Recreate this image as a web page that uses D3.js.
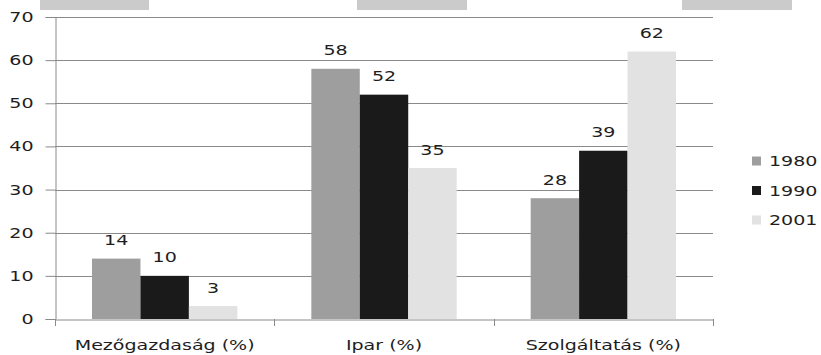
<!DOCTYPE html>
<html><head><meta charset="utf-8">
<script src="https://cdn.jsdelivr.net/npm/d3@7"></script>
<style>body{margin:0;background:#fff;} svg{display:block;font-family:"DejaVu Sans",Verdana,sans-serif;}</style>
</head><body><svg id="c" width="821" height="355"></svg>
<script>
const categories = ["Mezőgazdaság (%)", "Ipar (%)", "Szolgáltatás (%)"];
const seriesNames = ["1980", "1990", "2001"];
const values1980 = [14, 58, 28];
const values1990 = [10, 52, 39];
const values2001 = [3, 35, 62];
const yTicks = [0, 10, 20, 30, 40, 50, 60, 70];
const colors = ["#9e9e9e", "#1a1a1a", "#e2e2e2"];

(function(){
const SX = 1.36, FS = 14, TXT = "#1e1e1e";
const series = [values1980, values1990, values2001];
const svg = d3.select("#c");
const pLeft = 55, pRight = 713, pTop = 17, pBottom = 319;

function label(g, x, yy, t, anchor) {
  return g.append("text")
    .attr("transform", `translate(${x},${yy}) scale(${SX},1)`)
    .attr("text-anchor", anchor || "middle")
    .attr("font-size", FS).attr("fill", TXT).text(t);
}

// top decorative bars
[[40,149],[357,467],[682,792]].forEach(([a,b])=>{
  svg.append("rect").attr("x",a).attr("y",0).attr("width",b-a).attr("height",10).attr("fill","#cbcbcb");
});

const x0 = d3.scaleBand().domain(categories).range([pLeft, pRight]).paddingInner(0).paddingOuter(0);
const x1 = d3.scaleBand().domain(seriesNames).range([37, x0.bandwidth()-37]);
const y = d3.scaleLinear().domain([0, 70]).range([pBottom, pTop]);

// gridlines
svg.append("g").selectAll("line").data(yTicks.filter(d=>d>0)).join("line")
  .attr("x1", pLeft).attr("x2", pRight)
  .attr("y1", d=>Math.round(y(d))+0.5).attr("y2", d=>Math.round(y(d))+0.5)
  .attr("stroke", "#8a8a8a").attr("stroke-width", 1);

// y axis
const ya = svg.append("g").attr("transform", `translate(${pLeft+0.5},0)`)
  .call(d3.axisLeft(y).tickValues(yTicks).tickSize(10).tickPadding(12));
ya.select(".domain").attr("stroke","#8a8a8a");
ya.selectAll(".tick line").attr("stroke","#8a8a8a");
ya.selectAll(".tick text").attr("font-size", FS).attr("fill", TXT)
  .attr("font-family","DejaVu Sans, sans-serif")
  .attr("x", -22/SX).attr("transform", `scale(${SX},1)`);

// bars
categories.forEach((c, ci) => {
  seriesNames.forEach((s, si) => {
    const v = series[si][ci];
    svg.append("rect")
      .attr("x", x0(c) + x1(s)).attr("y", y(v))
      .attr("width", x1.bandwidth()).attr("height", y(0) - y(v))
      .attr("fill", colors[si]);
    label(svg, x0(c) + x1(s) + x1.bandwidth()/2, y(v) - 13.5, v);
  });
});

// x axis
const xa = svg.append("g").attr("transform", `translate(0,${pBottom+0.5})`)
  .call(d3.axisBottom(x0).tickSize(0).tickPadding(21));
xa.select(".domain").attr("stroke","#8a8a8a");
xa.selectAll(".tick text").attr("font-size", FS).attr("fill", TXT)
  .attr("font-family","DejaVu Sans, sans-serif")
  .attr("transform", `scale(${SX},1)`);
// category boundary ticks
const bounds = categories.map(c => x0(c)).concat([pRight]);
svg.append("g").selectAll("line").data(bounds).join("line")
  .attr("x1", d => Math.round(d)+0.5).attr("x2", d => Math.round(d)+0.5)
  .attr("y1", pBottom).attr("y2", pBottom+7).attr("stroke","#8a8a8a");

// legend
const lg = svg.append("g");
seriesNames.forEach((s, i) => {
  const yy = 161 + i*29.5;
  lg.append("rect").attr("x", 752).attr("y", yy-4.5).attr("width", 9).attr("height", 9).attr("fill", colors[i]);
  label(lg, 769, yy + 5, s, "start");
});
})();
</script></body></html>
